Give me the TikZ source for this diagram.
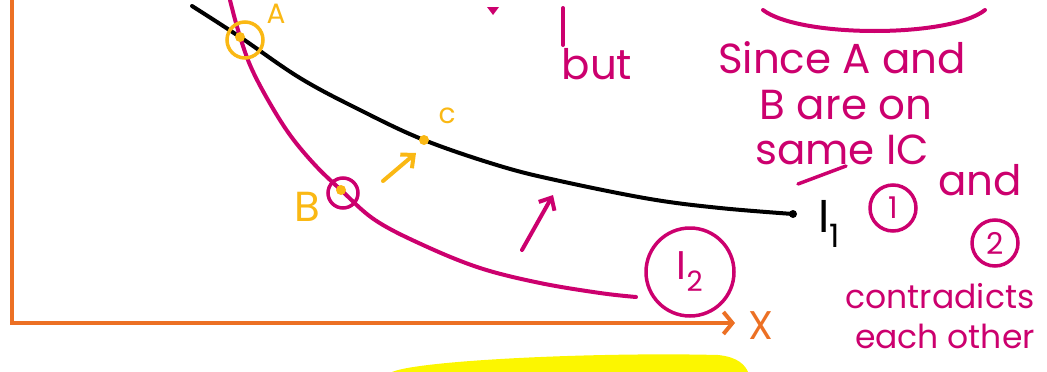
\documentclass[tikz,border=0pt]{standalone}
\usepackage{fontspec}
\setmainfont{Poppins}
\usetikzlibrary{arrows.meta}
\definecolor{inkpink}{RGB}{204,0,110}
\definecolor{inkorange}{RGB}{236,112,36}
\definecolor{inkyellow}{RGB}{250,184,20}
\definecolor{marker}{RGB}{252,246,0}
\begin{document}
\begin{tikzpicture}[
            x=1pt, y=-1pt,
            axis/.style={line width=4pt, inkorange},
            curve/.style={line width=4pt, line cap=round, line join=round},
            ink/.style={inkpink, font=\fontsize{42}{42}\selectfont},
            ring/.style={draw, circle, line width=3.5pt, inner sep=0pt},
            dot/.style={circle, fill, inner sep=0pt, minimum size=10pt},
            barb/.style={-{Straight Barb[length=10pt, width=18pt]}, line width=4pt, line cap=round}
        ]
        \useasboundingbox (0,0) rectangle (1047,372);
        \clip (0,0) rectangle (1047,372);

        % marker stroke
        \fill[marker] (392,372) .. controls (420,360) and (600,352) .. (718,355)
            .. controls (738,357) and (745,365) .. (748,372) -- cycle;

        % axes
        \coordinate (ytop) at (12,0);
        \coordinate (origin) at (12,323);
        \coordinate (xend) at (735,323);
        \draw[axis, -{Straight Barb[length=9pt, width=22pt]}] (ytop) -- (origin) -- (xend);
        \node[inkorange, font=\fontsize{40}{40}\selectfont] (xlabel) at (761,326) {X};

        % points
        \coordinate (A) at (240,37);
        \coordinate (B) at (341,190);
        \coordinate (C) at (424,140);
        \coordinate (i1end) at (793,214);
        \coordinate (i2end) at (636,297);

        % I1
        \draw[curve] plot[smooth, tension=0.6] coordinates {(192,6) (A) (300,78) (360,110) (C)
            (500,166) (560,181) (650,199) (720,208) (i1end)};
        \node[dot, black, minimum size=8pt] at (i1end) {};
        \node[font=\fontsize{46}{46}\selectfont, anchor=west] (i1) at (815,224) {I\textsubscript{1}};

        % I2
        \draw[curve, inkpink] plot[smooth, tension=0.6] coordinates {(230,0) (238,30) (250,65) (268,100)
            (290,135) (315,165) (B) (375,220) (423,245) (480,268) (540,283) (600,293) (i2end)};
        \node[ring, inkpink, minimum size=88pt, font=\fontsize{40}{40}\selectfont] (i2) at (690,272) {I\textsubscript{2}};

        % A, B, C
        \node[ring, inkyellow, minimum size=36pt] (ringA) at (245,40) {};
        \node[dot, inkyellow] at (A) {};
        \node[inkyellow, font=\fontsize{28}{28}\selectfont] (labA) at (276,14) {A};
        \node[ring, inkpink, minimum size=30pt] (ringB) at (343,193) {};
        \node[dot, inkyellow] at (B) {};
        \node[inkyellow, font=\fontsize{42}{42}\selectfont] (labB) at (307,207) {B};
        \node[dot, inkyellow] at (C) {};
        \node[inkyellow, font=\fontsize{28}{28}\selectfont] (labC) at (447,116) {c};

        % arrows
        \coordinate (ctail) at (383,181);
        \coordinate (chead) at (416,153);
        \draw[barb, inkyellow] (ctail) -- (chead);
        \coordinate (ptail) at (522,250);
        \coordinate (phead) at (553,195);
        \draw[barb, inkpink] (ptail) -- (phead);

        % notes
        \fill[inkpink] (487,7) -- (499,7) -- (493,15) -- cycle;
        \coordinate (bartop) at (563,8);
        \coordinate (barbot) at (563,45);
        \draw[curve, inkpink] (bartop) -- (barbot);
        \node[ink] (but) at (597,64) {but};
        \draw[curve, inkpink] (763,10) .. controls (800,38) and (950,38) .. (985,10);
        \node[ink] (since) at (842,58) {Since A and};
        \node[ink] (areon) at (846,105) {B are on};
        \node[ink] (sameic) at (842,150) {same IC};
        \draw[curve, inkpink, line width=3.5pt] (798,184) -- (846,166);
        \node[ring, inkpink, minimum size=46pt, font=\fontsize{30}{30}\selectfont] (one) at (893,208) {1};
        \node[ink] (and) at (980,180) {and};
        \node[ring, inkpink, minimum size=46pt, font=\fontsize{30}{30}\selectfont] (two) at (995,243) {2};
        \node[ink, font=\fontsize{33}{33}\selectfont] (contra) at (940,296) {contradicts};
        \node[ink, font=\fontsize{33}{33}\selectfont] (other) at (945,336) {each other};
    \end{tikzpicture}
\end{document}
